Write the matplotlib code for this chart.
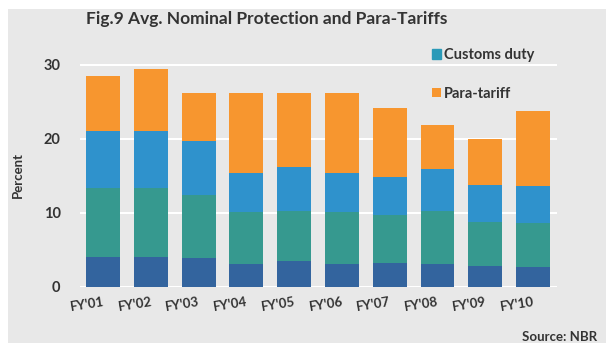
import matplotlib.pyplot as plt
import numpy as np
from matplotlib.patches import Rectangle

years = ["FY'01", "FY'02", "FY'03", "FY'04", "FY'05",
         "FY'06", "FY'07", "FY'08", "FY'09", "FY'10"]

# stacked components, percent
duty_a = [4.0, 4.1, 3.9, 3.1, 3.5, 3.1, 3.2, 3.1, 2.9, 2.7]
duty_b = [9.3, 9.2, 8.5, 7.0, 6.8, 7.0, 6.5, 7.1, 5.9, 5.9]
duty_c = [7.7, 7.7, 7.3, 5.3, 5.9, 5.3, 5.2, 5.7, 5.0, 5.1]
para_tariff = [7.5, 8.4, 6.5, 10.8, 10.0, 10.8, 9.3, 5.9, 6.2, 10.1]

c_dark = "#33649e"
c_teal = "#36998f"
c_blue = "#2f92cc"
c_orange = "#f7962f"
bg = "#e8e8e8"
txt = "#333333"

plt.rcParams["font.family"] = ["Lato", "DejaVu Sans"]
plt.rcParams["font.weight"] = "bold"

fig = plt.figure(figsize=(6.06, 3.43), dpi=100, facecolor="white")
fig.patches.append(Rectangle((8 / 606, 0), 1, 1 - 9 / 343, transform=fig.transFigure,
                             facecolor=bg, edgecolor="none", zorder=-1))

ax = fig.add_axes([80 / 606, 1 - 287 / 343, 477 / 606, 223 / 343])
ax.set_facecolor(bg)

x = np.arange(len(years))
w = 0.71
b1 = np.array(duty_a)
b2 = b1 + np.array(duty_b)
b3 = b2 + np.array(duty_c)

ax.bar(x, duty_a, w, color=c_dark, zorder=2)
ax.bar(x, duty_b, w, bottom=b1, color=c_teal, zorder=2)
h_cd = ax.bar(x, duty_c, w, bottom=b2, color=c_blue, zorder=2)
h_pt = ax.bar(x, para_tariff, w, bottom=b3, color=c_orange, zorder=2)

ax.set_xlim(-0.48, 9.5)
ax.set_ylim(0, 30.1)
ax.set_yticks([0, 10, 20, 30])
ax.grid(axis="y", color="white", linewidth=1.5, zorder=1)
for s in ax.spines.values():
    s.set_visible(False)

ax.tick_params(axis="both", length=0, colors=txt, labelsize=10.5)
ax.tick_params(axis="y", pad=14)
ax.set_xticks(x)
ax.set_xticklabels(years, rotation=9, ha="right", rotation_mode="anchor",
                   fontsize=9.5)
ax.tick_params(axis="x", pad=6)
ax.set_ylabel("Percent", fontsize=9.5, fontweight="bold", color=txt, labelpad=14)

fig.text(0.44, 0.968, "Fig.9 Avg. Nominal Protection and Para-Tariffs",
         ha="center", va="top", fontsize=12.5, fontweight="bold", color=txt)

leg = ax.legend([h_cd, h_pt], ["Customs duty", "Para-tariff"],
                loc="upper left", bbox_to_anchor=(0.71, 1.13), frameon=False,
                fontsize=10.5, handlelength=0.6, handleheight=0.6,
                handletextpad=0.25, labelspacing=1.7)
for t in leg.get_texts():
    t.set_color(txt)
leg.legend_handles[0].set_color("#2a9ab8")

fig.text(0.862, 0.0, "Source: NBR", fontsize=9.5, fontweight="bold",
         color=txt, ha="left", va="bottom")

plt.savefig("out.png", dpi=100, facecolor=fig.get_facecolor())
